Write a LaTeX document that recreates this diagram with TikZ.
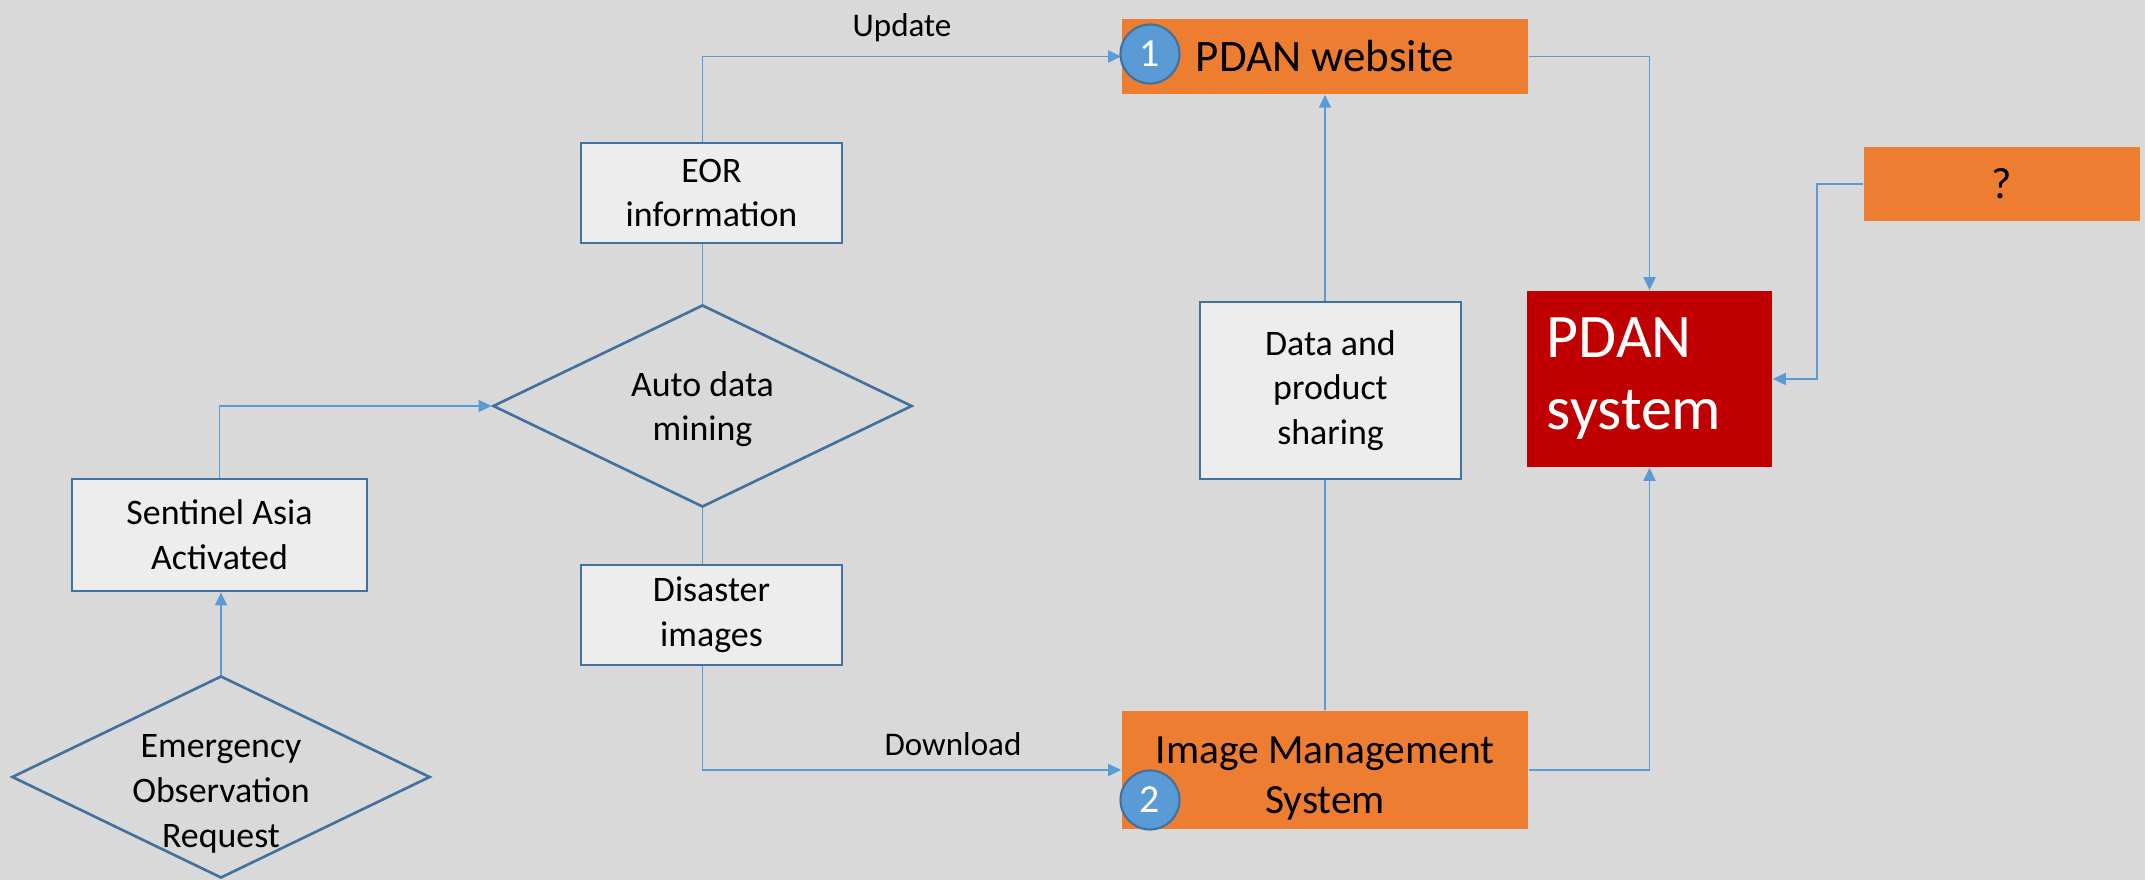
\documentclass[tikz,border=0pt]{standalone}
\usepackage{fontspec}
\setmainfont{Carlito}
\usetikzlibrary{shapes.geometric,arrows.meta}
\definecolor{bg}{HTML}{D9D9D9}
\definecolor{boxblue}{HTML}{41719C}
\definecolor{lineblue}{HTML}{5B9BD5}
\definecolor{boxfill}{HTML}{EDEDED}
\definecolor{orng}{HTML}{ED7D31}
\definecolor{dred}{HTML}{C00000}
\newcommand{\fsz}[2]{\fontsize{#1}{#2}\selectfont}
\tikzset{
  graybox/.style={draw=boxblue, line width=0.75pt, fill=boxfill, align=center, inner sep=0pt, font=\fsz{10.2pt}{12.7pt}},
  orangebox/.style={fill=orng, draw=none, align=center, inner sep=0pt},
  dia/.style={diamond, draw=boxblue, line width=0.75pt, inner sep=0pt},
  diatext/.style={align=center, inner sep=0pt, font=\fsz{10.2pt}{12.7pt}},
  conn/.style={draw=lineblue, line width=0.5pt},
  arr/.style={conn, -{Triangle[length=0.13cm, width=0.12cm]}},
  num/.style={circle, fill=lineblue, draw=boxblue, line width=0.6pt, text=white, minimum size=0.59cm, inner sep=0pt, font=\fsz{11.3pt}{13pt}},
  lbl/.style={inner sep=0pt, font=\fsz{9.4pt}{11pt}}
}
\begin{document}
\begin{tikzpicture}[x=0.01cm, y=-0.01cm]
\fill[bg] (0,0) rectangle (2145,880);
\useasboundingbox (0,0) rectangle (2145,880);

% nodes
\node[orangebox, minimum width=4.06cm, minimum height=0.75cm, font=\fsz{12.8pt}{15pt}] (web) at (1325,56.5) {PDAN website};
\node[orangebox, minimum width=4.06cm, minimum height=1.18cm, font=\fsz{11.8pt}{14.2pt}] (ims) at (1325,770) {\rule{0pt}{0.43cm}Image Management\\System};
\node[fill=dred, text=white, align=left, text width=2.05cm, inner xsep=0.2cm, inner ysep=0pt, minimum height=1.76cm, font=\fsz{17.6pt}{20.5pt}] (sys) at (1649.5,379) {PDAN\\system};
\node[orangebox, minimum width=2.76cm, minimum height=0.74cm, font=\fsz{12.5pt}{15pt}] (q) at (2002,184) {?};
\node[graybox, minimum width=2.61cm, minimum height=1.77cm] (data) at (1330.5,390.5) {Data and\\product\\sharing};
\node[graybox, minimum width=2.61cm, minimum height=1.00cm] (eor) at (711.5,193) {EOR\\information};
\node[graybox, minimum width=2.61cm, minimum height=1.00cm] (dis) at (711.5,615) {Disaster\\images};
\node[graybox, minimum width=2.95cm, minimum height=1.12cm] (sent) at (219.5,535) {Sentinel Asia\\Activated};
\node[dia, minimum width=4.19cm, minimum height=2.02cm] (auto) at (702.5,406) {};
\node[diatext] (autotext) at (702.5,409) {Auto data\\mining};
\node[dia, minimum width=4.18cm, minimum height=2.02cm] (emer) at (221,777) {};
\node[diatext] (emertext) at (221,794) {Emergency\\Observation\\Request};

% connectors
\draw[arr] (emer.north) -- (emer.north |- sent.south);
\draw[arr] (sent.north) |- (auto.west);
\draw[conn] (auto.north) -- (auto.north |- eor.south);
\draw[conn] (auto.south) -- (auto.south |- dis.north);
\draw[arr] (auto.north |- eor.north) |- (web.west);
\draw[arr] (auto.south |- dis.south) |- (ims.west);
\draw[arr] (web.east) -| (sys.north);
\draw[arr] (ims.east) -| (sys.south);
\draw[arr] (q.west) -- ++(-46,0) |- (sys.east);
\draw[conn] (ims.north) -- (ims.north |- data.south);
\draw[arr] (ims.north |- data.north) -- (web.south);

% labels
\node[lbl] (update) at (902,28) {Update};
\node[lbl] (download) at (953,744) {Download};

% numbered circles
\node[num] (c1) at (1150,54) {1};
\node[num] (c2) at (1150,800) {2};
\end{tikzpicture}
\end{document}
